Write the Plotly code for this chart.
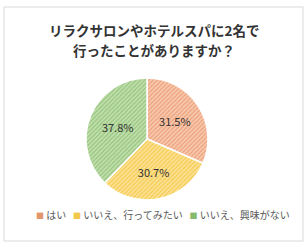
import plotly.graph_objects as go

labels = ["はい", "いいえ、行ってみたい", "いいえ、興味がない"]
values = [31.5, 30.7, 37.8]
title_lines = ["リラクサロンやホテルスパに2名で", "行ったことがありますか？"]

bg_colors = ["#f9ccb2", "#fde39a", "#c4e0b2"]
fg_colors = ["#eda27c", "#f5cc52", "#98c77e"]
legend_colors = ["#e5956b", "#f2c94c", "#86b96b"]

W, H = 308, 248
FONT = "Noto Sans CJK JP"

fig = go.Figure()
fig.add_trace(go.Pie(
    labels=labels,
    values=values,
    sort=False,
    direction="clockwise",
    rotation=0,
    texttemplate="%{value:.1f}%",
    textposition="inside",
    insidetextorientation="horizontal",
    textfont=dict(family=FONT, size=11, color="#333333"),
    marker=dict(
        colors=bg_colors,
        line=dict(color="white", width=1.5),
        pattern=dict(shape="/", fgcolor=fg_colors, bgcolor=bg_colors,
                     size=3, solidity=0.45),
    ),
    domain=dict(x=[86 / W, 208 / W], y=[1 - 200 / H, 1 - 78 / H]),
    hoverinfo="label+percent",
    showlegend=False,
))

# title
for i, line in enumerate(title_lines):
    fig.add_annotation(
        text="<b>" + line + "</b>",
        x=0.5, y=1 - (30 + 20 * i) / H, xref="paper", yref="paper",
        xanchor="center", yanchor="middle", showarrow=False,
        font=dict(family=FONT, size=13.5, color="#333333"),
    )

# legend
parts = []
for lab, col in zip(labels, legend_colors):
    parts.append("<span style='color:%s;font-size:8px'>■</span>&nbsp;%s" % (col, lab))
legend_text = "&nbsp;&nbsp;&nbsp;".join(parts)
fig.add_annotation(
    text=legend_text,
    x=163 / W, y=1 - 214 / H, xref="paper", yref="paper",
    xanchor="center", yanchor="middle", showarrow=False,
    font=dict(family=FONT, size=10, color="#595959"),
)

# frame
fig.add_shape(type="rect", xref="paper", yref="paper",
              x0=4 / W, x1=303 / W, y0=1 - 241 / H, y1=1 - 7 / H,
              line=dict(color="#d9d9d9", width=1), fillcolor="rgba(0,0,0,0)")

fig.update_layout(
    width=W, height=H,
    margin=dict(l=0, r=0, t=0, b=0),
    paper_bgcolor="white", plot_bgcolor="white",
    showlegend=False,
)

fig.write_html("out.html")
